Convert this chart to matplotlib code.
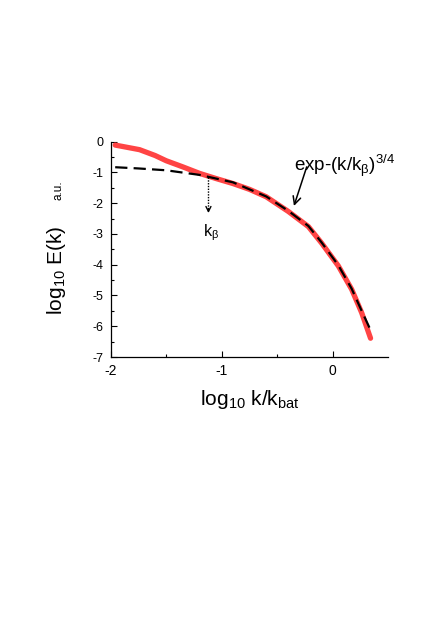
import numpy as np
import matplotlib
matplotlib.use("Agg")
from matplotlib import pyplot as plt

plt.rcParams.update({'font.family': ['Liberation Sans', 'DejaVu Sans'],
                     'mathtext.fontset': 'custom',
                     'mathtext.rm': 'Liberation Sans',
                     'mathtext.it': 'Liberation Sans:italic',
                     'mathtext.default': 'regular',
                     'axes.unicode_minus': False})

# measured spectrum (red) and stretched-exponential fit (dashed)
spec_x = [-1.96, -1.74, -1.60, -1.50, -1.35, -1.20, -1.05, -0.90, -0.75, -0.60,
          -0.40, -0.22, -0.10, 0.05, 0.17, 0.26, 0.34]
spec_y = [-0.11, -0.26, -0.45, -0.62, -0.82, -1.03, -1.20, -1.36, -1.55, -1.79,
          -2.27, -2.76, -3.30, -4.04, -4.80, -5.56, -6.39]
fit_x = [-1.96, -1.75, -1.50, -1.20, -0.90, -0.60, -0.40, -0.22, -0.10, 0.05,
         0.17, 0.26, 0.35]
fit_y = [-0.83, -0.87, -0.93, -1.08, -1.32, -1.78, -2.25, -2.74, -3.28, -4.02,
         -4.78, -5.50, -6.20]

x_ticks = [-2, -1, 0]
y_ticks = [0, -1, -2, -3, -4, -5, -6, -7]

kb_x = -1.12
kb_top, kb_tip = -1.14, -2.32
fit_label_xy = (0.11, -0.95)
fit_arrow_from = (-0.235, -0.82)
fit_arrow_to = (-0.35, -2.09)

fig = plt.figure(figsize=(4.36, 6.25), dpi=100)
ax = fig.add_axes([0.254, 0.4288, 0.6366, 0.3445])

ax.plot(spec_x, spec_y, color='#ff4444', lw=3.8, solid_capstyle='round',
        solid_joinstyle='round', zorder=2)
ax.plot(fit_x, fit_y, color='k', lw=1.6, dashes=(5.5, 2.8), zorder=3)

# k_beta marker
ax.plot([kb_x, kb_x], [kb_top, kb_tip + 0.1], color='k', lw=1.0, ls=(0, (1, 1)))
ax.annotate('', xy=(kb_x, kb_tip), xytext=(kb_x, kb_tip + 0.15),
            arrowprops=dict(arrowstyle='->', color='k', lw=1.0,
                            mutation_scale=9, shrinkA=0, shrinkB=0))
ax.text(kb_x + 0.02, -2.62, r'k$_\beta$', fontsize=11.5, ha='center', va='top')

ax.annotate('', xy=fit_arrow_to, xytext=fit_arrow_from,
            arrowprops=dict(arrowstyle='->', color='k', lw=1.1,
                            mutation_scale=14, shrinkA=0, shrinkB=0))
ax.text(fit_label_xy[0], fit_label_xy[1], r'exp-(k/k$_\beta$)$^{3/4}$',
        fontsize=13.5, ha='center', va='baseline')

ax.set_xlim(-2, 0.5)
ax.set_ylim(-7, 0)
ax.set_xticks(x_ticks)
ax.set_yticks(y_ticks)
ax.set_xticks([-1.5, -0.5], minor=True)
ax.set_yticks(np.arange(-6.5, 0, 1.0), minor=True)
ax.tick_params(which='both', direction='in', width=0.8)
ax.tick_params(which='major', length=4, pad=5)
ax.tick_params(which='minor', length=2.5)
ax.tick_params(axis='x', labelsize=10)
ax.tick_params(axis='y', labelsize=9)
ax.spines['top'].set_visible(False)
ax.spines['right'].set_visible(False)
for s in ['left', 'bottom']:
    ax.spines[s].set_linewidth(0.9)

fig.text(250 / 436, 1 - 405 / 625, r'log$_{10}$ k/k$_{bat}$', fontsize=15,
         ha='center', va='baseline')
fig.text(62 / 436, 1 - 270 / 625, r'log$_{10}$ E(k)', fontsize=15,
         rotation=90, rotation_mode='anchor', ha='center', va='baseline')
fig.text(61 / 436, 1 - 190 / 625, 'a.u.', fontsize=8.5,
         rotation=90, rotation_mode='anchor', ha='center', va='baseline')

fig.savefig('out.png', dpi=100)
